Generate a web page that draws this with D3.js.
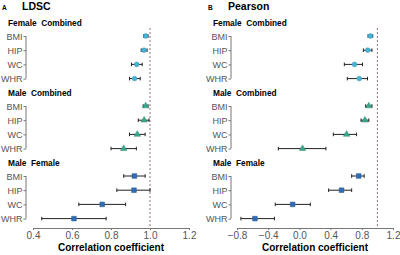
<!DOCTYPE html>
<html>
<head>
<meta charset="utf-8">
<script src="https://cdn.jsdelivr.net/npm/d3@7"></script>
<style>
  body { margin: 0; background: #fff; }
  svg { font-family: "Liberation Sans", Arial, sans-serif; }
  .tick text { fill: #555; font-size: 9px; }
  .axis path, .axis line { stroke: #777; }
</style>
</head>
<body>
<svg id="chart" width="400" height="255"></svg>
<script>
const traits = ['BMI', 'HIP', 'WC', 'WHR'];
const groups = ['Female  Combined', 'Male  Combined', 'Male  Female'];
const groupColours = ['#45b4d6', '#3aa88c', '#2f6db5'];
const groupShapes = [d3.symbolCircle, d3.symbolTriangle, d3.symbolSquare];

// LDSC estimates [est, lo, hi] per group, per trait
const ldscFemaleCombined = [[0.978, 0.968, 0.99], [0.969, 0.955, 0.985], [0.932, 0.905, 0.96], [0.921, 0.895, 0.95]];
const ldscMaleCombined = [[0.978, 0.965, 0.99], [0.97, 0.94, 0.995], [0.935, 0.895, 0.975], [0.865, 0.80, 0.93]];
const ldscMaleFemale = [[0.92, 0.865, 0.975], [0.918, 0.83, 1.0], [0.755, 0.635, 0.875], [0.61, 0.445, 0.775]];

// Pearson estimates
const pearFemaleCombined = [[0.91, 0.88, 0.94], [0.877, 0.82, 0.93], [0.707, 0.576, 0.809], [0.767, 0.614, 0.873]];
const pearMaleCombined = [[0.89, 0.85, 0.93], [0.84, 0.79, 0.89], [0.605, 0.435, 0.733], [0.04, -0.27, 0.34]];
const pearMaleFemale = [[0.76, 0.67, 0.83], [0.54, 0.375, 0.67], [-0.087, -0.31, 0.14], [-0.57, -0.75, -0.32]];

const ldscTicks = [0.4, 0.6, 0.8, 1.0, 1.2];
const pearTicks = [-0.8, -0.4, 0.0, 0.4, 0.8, 1.2];

const svg = d3.select('#chart');

// rows: group header y and trait row ys
const groupTop = [23, 93, 163];
const rowGap = 14.2;

function drawPanel(opts) {
    const g = svg.append('g');
    const x = d3.scaleLinear().domain(opts.domain).range(opts.range);

    // panel letter + title
    g.append('text').attr('x', opts.letterX).attr('y', 10)
        .attr('font-size', 6.5).attr('font-weight', 'bold').text(opts.letter);
    g.append('text').attr('x', opts.letterX + 20).attr('y', 10)
        .attr('font-size', 10.5).attr('font-weight', 'bold').text(opts.title);

    // dashed reference line at 1.0
    g.append('line')
        .attr('x1', x(1)).attr('x2', x(1))
        .attr('y1', 28).attr('y2', 227)
        .attr('stroke', '#9a6f80').attr('stroke-width', 1)
        .attr('stroke-dasharray', '2,2');

    opts.data.forEach((rows, gi) => {
        const top = groupTop[gi];
        g.append('text').attr('x', opts.labelX).attr('y', top + 3)
            .attr('font-size', 8.3).attr('font-weight', 'bold')
            .attr('xml:space', 'preserve').style('white-space', 'pre')
            .text(groups[gi]);

        const y = d3.scalePoint().domain(traits)
            .range([top + 13, top + 13 + rowGap * 3]);

        const ax = g.append('g').attr('class', 'axis')
            .attr('transform', `translate(${opts.axisX},0)`)
            .call(d3.axisLeft(y).tickSize(2.5).tickPadding(1).tickSizeOuter(0));
        ax.select('.domain').attr('d', `M0,${y('BMI')}V${y('WHR')}`);
        ax.selectAll('.tick text').attr('dy', '0.36em');

        const rowData = rows.map((r, i) => ({ trait: traits[i], est: r[0], lo: r[1], hi: r[2] }));
        const bars = g.append('g').selectAll('g').data(rowData).join('g');
        bars.append('line')
            .attr('x1', (d) => x(d.lo)).attr('x2', (d) => x(d.hi))
            .attr('y1', (d) => y(d.trait)).attr('y2', (d) => y(d.trait))
            .attr('stroke', '#222').attr('stroke-width', 1);
        ['lo', 'hi'].forEach((k) => {
            bars.append('line')
                .attr('x1', (d) => x(d[k])).attr('x2', (d) => x(d[k]))
                .attr('y1', (d) => y(d.trait) - 1.8).attr('y2', (d) => y(d.trait) + 1.8)
                .attr('stroke', '#222').attr('stroke-width', 1);
        });
        bars.append('path')
            .attr('d', d3.symbol().type(groupShapes[gi]).size(gi === 2 ? 22 : 18))
            .attr('transform', (d) => `translate(${x(d.est)},${y(d.trait)})`)
            .attr('fill', groupColours[gi])
            .attr('stroke', d3.color(groupColours[gi]).darker(0.6))
            .attr('stroke-width', 0.5);
    });

    // x axis
    const xa = g.append('g').attr('class', 'axis x')
        .attr('transform', 'translate(0,228)')
        .call(d3.axisBottom(x).tickValues(opts.ticks).tickSize(2).tickPadding(2)
            .tickSizeOuter(0).tickFormat(d3.format('.1f')));
    xa.selectAll('.tick text').style('font-size', '10px');

    g.append('text')
        .attr('x', (opts.range[0] + opts.range[1]) / 2)
        .attr('y', 251).attr('text-anchor', 'middle')
        .attr('font-size', 10).attr('font-weight', 'bold')
        .text('Correlation coefficient');
}

drawPanel({
    letter: 'A', title: 'LDSC', letterX: 2, labelX: 8, axisX: 26,
    domain: [0.4, 1.2], range: [33, 189], ticks: ldscTicks,
    data: [ldscFemaleCombined, ldscMaleCombined, ldscMaleFemale]
});

drawPanel({
    letter: 'B', title: 'Pearson', letterX: 208, labelX: 213, axisX: 231,
    domain: [-0.8, 1.2], range: [237, 393], ticks: pearTicks,
    data: [pearFemaleCombined, pearMaleCombined, pearMaleFemale]
});
</script>
</body>
</html>
